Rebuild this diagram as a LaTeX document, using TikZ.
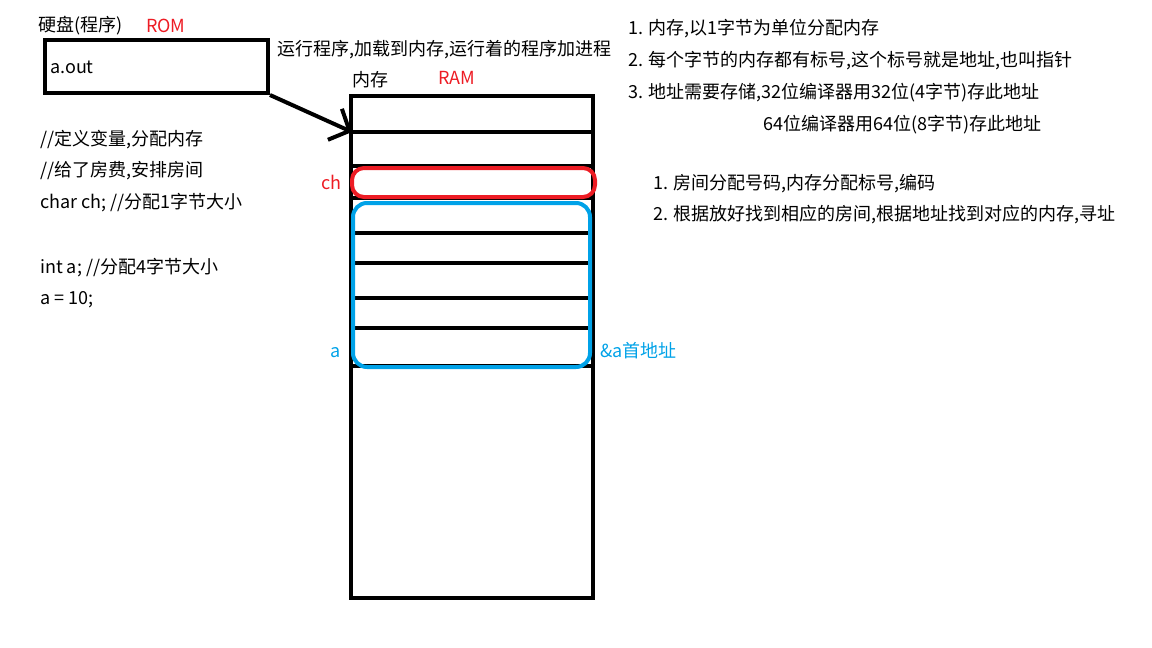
\documentclass[tikz,border=0pt]{standalone}
\usepackage{fontspec}
\setmainfont{Noto Sans CJK SC}
\usetikzlibrary{arrows.meta,positioning}
\definecolor{paintred}{HTML}{ED1C24}
\definecolor{paintblue}{HTML}{00A2E8}
\tikzset{memtext/.style={anchor=west,inner sep=0pt,font=\fontsize{18}{21}\selectfont},memline/.style={line width=4pt},membox/.style={draw,line width=4pt,inner sep=0pt},cellbox/.style={draw,line width=4pt,inner sep=0pt,rounded corners=12pt},memarrow/.style={line width=4pt,-{Straight Barb[length=16pt,width=34pt,line width=4pt]}}}

\begin{document}
\begin{tikzpicture}[x=1pt,y=-1pt]
\useasboundingbox (0,0) rectangle (1152,648);
\node[memtext] (disk) at (38,26) {硬盘(程序)};
\node[memtext,text=paintred] (rom) at (146,26) {ROM};
\node[membox,minimum width=223pt,minimum height=53pt] (aout) at (156.5,66.5) {};
\node[memtext] (aoutname) at (50,67) {a.out};
\node[memtext] (load) at (277,50) {运行程序,加载到内存,运行着的程序加进程};
\node[memtext] (ramname) at (352,80) {内存};
\node[memtext,text=paintred] (ramtag) at (438,78) {RAM};
\node[membox,minimum width=242pt,minimum height=502pt] (ram) at (472,347) {};
\foreach \y in {132,166,198,233,263,298,328,366}
  \draw[memline] (351,\y) -- (593,\y);
\node[cellbox,draw=paintred,minimum width=243pt,minimum height=29pt] (chcell) at (473.5,182.5) {};
\node[cellbox,draw=paintblue,rounded corners=14pt,minimum width=237pt,minimum height=164pt] (acell) at (471.5,285) {};
\node[memtext,text=paintred,anchor=east] (chname) at (342,182) {ch};
\node[memtext,text=paintblue] (aname) at (330,353) {a};
\node[memtext,text=paintblue] (aaddr) at (600,351) {\&a首地址};
\coordinate (entry) at (352,132);
\draw[memarrow] (aout.south east) -- (entry);
\node[memtext] (c1) at (40,140) {//定义变量,分配内存};
\node[memtext] (c2) at (40,171) {//给了房费,安排房间};
\node[memtext] (c3) at (40,203) {char ch; //分配1字节大小};
\node[memtext] (c4) at (40,268) {int a; //分配4字节大小};
\node[memtext] (c5) at (40,300) {a = 10;};
\node[memtext] (r1) at (628,29) {1. 内存,以1字节为单位分配内存};
\node[memtext] (r2) at (628,61) {2. 每个字节的内存都有标号,这个标号就是地址,也叫指针};
\node[memtext] (r3) at (628,93) {3. 地址需要存储,32位编译器用32位(4字节)存此地址};
\node[memtext] (r4) at (763,125) {64位编译器用64位(8字节)存此地址};
\node[memtext] (s1) at (653,184) {1. 房间分配号码,内存分配标号,编码};
\node[memtext] (s2) at (653,215) {2. 根据放好找到相应的房间,根据地址找到对应的内存,寻址};
\end{tikzpicture}
\end{document}
